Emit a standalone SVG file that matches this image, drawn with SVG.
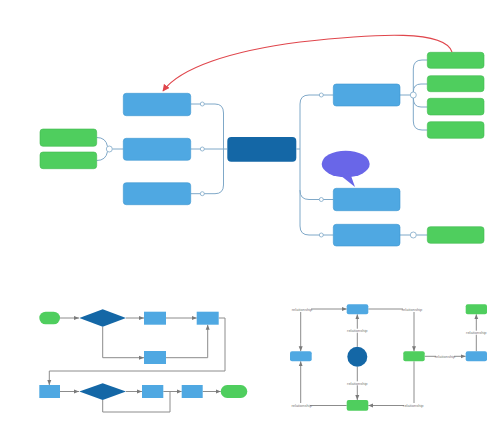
<svg xmlns="http://www.w3.org/2000/svg" width="496" height="427" viewBox="0 0 496 427">
<defs>
<style>
.blue{fill:#4fa8e2;stroke:#3d96d0;stroke-width:0.6}
.dark{fill:#1467a6}
.green{fill:#4fce5e;stroke:#3fb84f;stroke-width:0.6}
.mm{fill:none;stroke:#7fa8c8;stroke-width:1}
.knob{fill:#fff;stroke:#7fa8c8;stroke-width:0.8}
.fl{fill:none;stroke:#8c8c8c;stroke-width:1}
.lbl{font-family:"Liberation Sans",Arial,sans-serif;font-size:4px;fill:#777;text-anchor:middle;dominant-baseline:central}
.lb{fill:#fff}
</style>
<marker id="ar" viewBox="0 0 10 10" refX="10" refY="5" markerWidth="5" markerHeight="5" orient="auto" markerUnits="userSpaceOnUse"><path d="M0,1 L10,5 L0,9 Z" fill="#7a7a7a"/></marker>
<marker id="rar" viewBox="0 0 10 10" refX="9" refY="5" markerWidth="7" markerHeight="7" orient="auto" markerUnits="userSpaceOnUse"><path d="M0,0 L10,5 L0,10 Z" fill="#e0464c"/></marker>
</defs>
<rect width="496" height="427" fill="#fff"/>

<g id="connectors">
<!-- mind map left -->
<path class="mm" d="M190.7,104 H215 Q223.5,104 223.5,113 V185 Q223.5,193.7 215,193.7 H190.7"/>
<path class="mm" d="M190.7,149 H227"/>
<path class="mm" d="M112.3,149 H123.3"/>
<path class="mm" d="M96.7,137.5 Q106,137.5 107.5,146.5"/>
<path class="mm" d="M96.7,160.5 Q106,160.5 107.5,151.5"/>
<!-- mind map right -->
<path class="mm" d="M296.5,149 H300"/>
<path class="mm" d="M333.3,95 H309 Q300,95 300,104 V190.5 Q300,199.5 309,199.5 H333.3"/>
<path class="mm" d="M300,190 V226 Q300,235 309,235 H333.3"/>
<path class="mm" d="M400,95 H410.3"/>
<path class="mm" d="M413.3,92 V69 Q413.3,60 422,60 H427.3"/>
<path class="mm" d="M413.3,92 Q413.3,84 421,84 H427.3"/>
<path class="mm" d="M413.3,98 Q413.3,107 421,107 H427.3"/>
<path class="mm" d="M413.3,98 V121 Q413.3,130 422,130 H427.3"/>
<path class="mm" d="M400,235 H410.3 M416.3,235 H427.3"/>
<circle class="knob" cx="202.3" cy="104" r="2"/>
<circle class="knob" cx="202.3" cy="149" r="2"/>
<circle class="knob" cx="202.3" cy="193.7" r="2"/>
<circle class="knob" cx="109.3" cy="149" r="3"/>
<circle class="knob" cx="321.3" cy="95" r="2"/>
<circle class="knob" cx="321.3" cy="199.5" r="2"/>
<circle class="knob" cx="321.3" cy="235" r="2"/>
<circle class="knob" cx="413.3" cy="95" r="3"/>
<circle class="knob" cx="413.3" cy="235" r="3"/>
<!-- red relation -->
<path d="M452,52 C445,30 380,33 300,42 C230,51 180,68 163,91" fill="none" stroke="#e0464c" stroke-width="1.1" marker-end="url(#rar)"/>

<!-- flowchart -->
<path class="fl" d="M60,318 H79" marker-end="url(#ar)"/>
<path class="fl" d="M126,318 H144" marker-end="url(#ar)"/>
<path class="fl" d="M166,318 H196.7" marker-end="url(#ar)"/>
<path class="fl" d="M102.7,326.7 V357.7 H144" marker-end="url(#ar)"/>
<path class="fl" d="M166,357.7 H207.7 V324.7" marker-end="url(#ar)"/>
<path class="fl" d="M218.7,318 H225 V371 H49.3 V385" marker-end="url(#ar)"/>
<path class="fl" d="M60,391.5 H79" marker-end="url(#ar)"/>
<path class="fl" d="M126,391.5 H142" marker-end="url(#ar)"/>
<path class="fl" d="M163.3,391.5 H181.7" marker-end="url(#ar)"/>
<path class="fl" d="M202.7,391.5 H220.7" marker-end="url(#ar)"/>
<path class="fl" d="M102.7,400 V412 H170 V391.5"/>

<!-- relationship map -->
<path class="fl" d="M309,309 H346.7" marker-end="url(#ar)"/>
<path class="fl" d="M300.7,312 V351.3" marker-end="url(#ar)"/>
<path class="fl" d="M368.3,309 H404"/>
<path class="fl" d="M414,312 V351.3" marker-end="url(#ar)"/>
<path class="fl" d="M357.3,346.7 V314.3" marker-end="url(#ar)"/>
<path class="fl" d="M357.3,366.7 V400" marker-end="url(#ar)"/>
<path class="fl" d="M346.7,405.5 H309"/>
<path class="fl" d="M300.7,403 V361.3" marker-end="url(#ar)"/>
<path class="fl" d="M405,405.5 H368.3" marker-end="url(#ar)"/>
<path class="fl" d="M414,403 V361.3"/>
<path class="fl" d="M424.7,356.3 H465.7" marker-end="url(#ar)"/>
<path class="fl" d="M476.3,351.3 V314.3" marker-end="url(#ar)"/>
<g>
<rect class="lb" x="293" y="307" width="18" height="4"/><text class="lbl" x="302" y="309">relationship</text>
<rect class="lb" x="403" y="307" width="18" height="4"/><text class="lbl" x="412" y="309">relationship</text>
<rect class="lb" x="348" y="328.7" width="18" height="4"/><text class="lbl" x="357.3" y="330.7">relationship</text>
<rect class="lb" x="348" y="381.3" width="18" height="4"/><text class="lbl" x="357.3" y="383.3">relationship</text>
<rect class="lb" x="292" y="403.5" width="18" height="4"/><text class="lbl" x="301.7" y="405.5">relationship</text>
<rect class="lb" x="404" y="403.5" width="18" height="4"/><text class="lbl" x="413.3" y="405.5">relationship</text>
<rect class="lb" x="436" y="354.3" width="18" height="4"/><text class="lbl" x="445" y="356.3">relationship</text>
<rect class="lb" x="467" y="330.7" width="18" height="4"/><text class="lbl" x="476.3" y="332.7">relationship</text>
</g>
</g>

<!-- mind map nodes -->
<g id="central"><rect class="dark" x="227.3" y="137" width="69" height="24.7" rx="4"/></g>
<g id="left1"><rect class="blue" x="123.3" y="93.3" width="67.4" height="22.4" rx="3"/></g>
<g id="left2"><rect class="blue" x="123.3" y="138.3" width="67.4" height="22" rx="3"/></g>
<g id="left3"><rect class="blue" x="123.3" y="182.7" width="67.4" height="22" rx="3"/></g>
<g id="lgreen1"><rect class="green" x="40" y="129" width="56.7" height="17.3" rx="3"/></g>
<g id="lgreen2"><rect class="green" x="40" y="152" width="56.7" height="16.7" rx="3"/></g>
<g id="right1"><rect class="blue" x="333.3" y="84" width="66.7" height="22" rx="3"/></g>
<g id="right2"><rect class="blue" x="333.3" y="188.3" width="66.7" height="22.4" rx="3"/></g>
<g id="right3"><rect class="blue" x="333.3" y="224.3" width="66.7" height="21.7" rx="3"/></g>
<g id="rgreen1"><rect class="green" x="427.3" y="52.3" width="56.7" height="16" rx="3"/></g>
<g id="rgreen2"><rect class="green" x="427.3" y="75.7" width="56.7" height="16" rx="3"/></g>
<g id="rgreen3"><rect class="green" x="427.3" y="98.3" width="56.7" height="16.7" rx="3"/></g>
<g id="rgreen4"><rect class="green" x="427.3" y="121.7" width="56.7" height="16.6" rx="3"/></g>
<g id="rgreen5"><rect class="green" x="427.3" y="226.7" width="56.7" height="16.6" rx="3"/></g>
<g id="callout"><ellipse cx="345.7" cy="164" rx="24" ry="13.3" fill="#6966e8"/><path d="M340,175 L355,187 L350,173 Z" fill="#6966e8"/></g>

<!-- flowchart nodes -->
<g id="f-start"><rect x="39.3" y="311.7" width="20.7" height="12.6" rx="6.3" fill="#4fce5e"/></g>
<g id="f-dec1"><path d="M79.3,318 L102.7,309.3 L126,318 L102.7,326.7 Z" fill="#1467a6"/></g>
<g id="f-p1"><rect x="144" y="311.7" width="22" height="13" fill="#4fa8e2"/></g>
<g id="f-p2"><rect x="196.7" y="311.7" width="22" height="13" fill="#4fa8e2"/></g>
<g id="f-p3"><rect x="144" y="351" width="22" height="13" fill="#4fa8e2"/></g>
<g id="f-p4"><rect x="39.3" y="385" width="20.7" height="13" fill="#4fa8e2"/></g>
<g id="f-dec2"><path d="M79.3,391.5 L102.7,383.3 L126,391.5 L102.7,400 Z" fill="#1467a6"/></g>
<g id="f-p5"><rect x="142" y="385" width="21.3" height="13" fill="#4fa8e2"/></g>
<g id="f-p6"><rect x="181.7" y="385" width="21" height="13" fill="#4fa8e2"/></g>
<g id="f-end"><rect x="220.7" y="385" width="26.6" height="13" rx="6.5" fill="#4fce5e"/></g>

<!-- relationship nodes -->
<g id="r-top"><rect x="346.7" y="304.3" width="21.6" height="10" rx="2" fill="#4fa8e2"/></g>
<g id="r-left"><rect x="290" y="351.3" width="21.7" height="10" rx="2" fill="#4fa8e2"/></g>
<g id="r-circle"><circle cx="357.3" cy="356.7" r="10" fill="#1467a6"/></g>
<g id="r-bottom"><rect x="346.7" y="400" width="21.6" height="10.7" rx="2" fill="#4fce5e"/></g>
<g id="r-mid"><rect x="403.3" y="351.3" width="21.4" height="10" rx="2" fill="#4fce5e"/></g>
<g id="r-right"><rect x="465.7" y="351.3" width="21.3" height="10" rx="2" fill="#4fa8e2"/></g>
<g id="r-topright"><rect x="465.7" y="304.3" width="21.3" height="10" rx="2" fill="#4fce5e"/></g>
</svg>
